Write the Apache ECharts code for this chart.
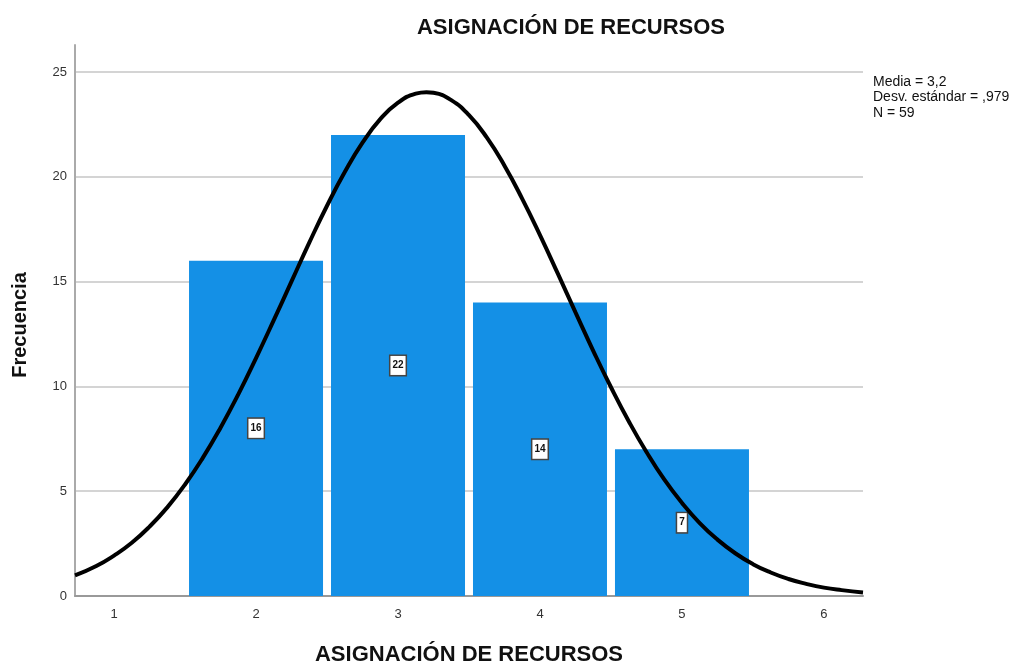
<!DOCTYPE html>
<html><head><meta charset="utf-8">
<script src="https://cdn.jsdelivr.net/npm/echarts@6/dist/echarts.min.js"></script>
<style>html,body{margin:0;padding:0;background:#fff}#c{width:1024px;height:664px}</style>
</head><body><div id="c"></div>
<script>
var binCenters = [2, 3, 4, 5];
var frequencies = [16, 22, 14, 7];
var curveX = [0.725, 0.875, 1, 1.125, 1.25, 1.375, 1.5, 1.625, 1.75, 1.875, 2, 2.125, 2.25, 2.375, 2.5, 2.625, 2.75, 2.875, 3, 3.125, 3.2, 3.25, 3.375, 3.5, 3.625, 3.75, 3.875, 4, 4.125, 4.25, 4.375, 4.5, 4.625, 4.75, 4.875, 5, 5.125, 5.25, 5.375, 5.5, 5.625, 5.75, 5.875, 6, 6.125, 6.275];
var curveY = [0.98, 1.43, 1.93, 2.54, 3.31, 4.23, 5.32, 6.59, 8.03, 9.62, 11.35, 13.16, 15.01, 16.86, 18.62, 20.23, 21.63, 22.75, 23.54, 23.97, 24.04, 24.01, 23.66, 22.94, 21.88, 20.53, 18.95, 17.22, 15.39, 13.53, 11.70, 9.96, 8.34, 6.87, 5.56, 4.44, 3.48, 2.69, 2.04, 1.52, 1.12, 0.81, 0.58, 0.40, 0.28, 0.17];
var statLines = ['Media = 3,2', 'Desv. estándar = ,979', 'N = 59'];
var titleText = 'ASIGNACIÓN DE RECURSOS';
var xName = 'ASIGNACIÓN DE RECURSOS';
var yName = 'Frecuencia';

var chart = echarts.init(document.getElementById('c'), null, {renderer: 'canvas'});
var font = 'Arimo, "Liberation Sans", Arial, sans-serif';
chart.setOption({
  animation: false,
  backgroundColor: '#fff',
  textStyle: {fontFamily: font},
  graphic: [{
    type: 'text', x: 571, y: 17,
    style: {text: titleText, font: 'bold 22px ' + font, fill: '#111', textAlign: 'center'}
  }, {
    type: 'text', left: 873, top: 74,
    style: {text: statLines.join('\n'), font: '14px ' + font, fill: '#111', lineHeight: 15.5}
  }, {
    type: 'text', x: 20, y: 325, rotation: Math.PI / 2,
    style: {text: yName, font: 'bold 20px ' + font, fill: '#111', textAlign: 'center', textVerticalAlign: 'middle'}
  }],
  grid: {left: 75, right: 161, top: 45, bottom: 68, outerBoundsMode: 'none', containLabel: false},
  xAxis: {
    type: 'value', min: 0.725, max: 6.275, minInterval: 1, maxInterval: 1,
    name: xName, nameLocation: 'middle', nameGap: 48,
    nameTextStyle: {fontFamily: font, fontSize: 22, fontWeight: 'bold', color: '#111'},
    axisLine: {show: true, lineStyle: {color: '#999', width: 2}},
    axisTick: {show: false},
    splitLine: {show: false},
    axisLabel: {
      color: '#333', fontSize: 13, margin: 12,
      formatter: function (v) { return Math.abs(v - Math.round(v)) < 1e-6 ? String(Math.round(v)) : ''; }
    }
  },
  yAxis: {
    type: 'value', min: 0, max: 26.29, minInterval: 5, maxInterval: 5,
    axisLine: {show: true, lineStyle: {color: '#aaa', width: 2}},
    axisTick: {show: false},
    splitLine: {show: true, showMaxLine: false, showMinLine: false, lineStyle: {color: '#d4d4d4', width: 2}},
    axisLabel: {
      color: '#333', fontSize: 13, margin: 8,
      formatter: function (v) { return Math.abs(v % 5) < 1e-6 ? String(v) : ''; }
    }
  },
  series: [{
    type: 'bar',
    data: binCenters.map(function (x, i) { return [x, frequencies[i]]; }),
    barWidth: 134,
    itemStyle: {color: '#1490e6'},
    label: {
      show: true, position: 'inside', color: '#111', fontSize: 10, fontWeight: 'bold',
      backgroundColor: '#fff', borderColor: '#444', borderWidth: 1.5,
      padding: [5, 2, 4, 2],
      formatter: function (p) { return p.value[1]; }
    },
    z: 2
  }, {
    type: 'line',
    data: curveX.map(function (x, i) { return [x, curveY[i]]; }),
    smooth: 0.5, showSymbol: false, symbol: 'none',
    lineStyle: {color: '#000', width: 4},
    z: 3
  }]
});
</script></body></html>
